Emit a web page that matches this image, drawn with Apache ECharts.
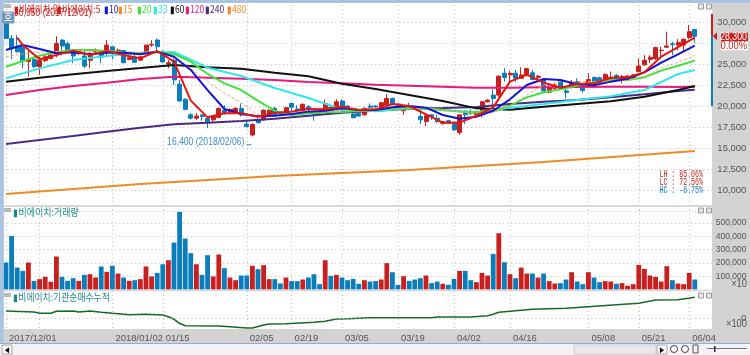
<!DOCTYPE html>
<html>
<head>
<meta charset="utf-8">
<style>
  html, body { margin: 0; padding: 0; background: #f0f0f0; }
  #main { width: 750px; height: 355px; }
</style>
<script src="https://cdn.jsdelivr.net/npm/echarts@6/dist/echarts.min.js"></script>
</head>
<body>
<div id="main"></div>
<script>
// 거래일
const categories = [
  "2017/12/01","2017/12/04","2017/12/05","2017/12/06","2017/12/07","2017/12/08","2017/12/11","2017/12/12","2017/12/13","2017/12/14","2017/12/15",
  "2017/12/18","2017/12/19","2017/12/20","2017/12/21","2017/12/22","2017/12/26","2017/12/27","2017/12/28",
  "2018/01/02","2018/01/03","2018/01/04","2018/01/05","2018/01/08","2018/01/09","2018/01/10","2018/01/11","2018/01/12",
  "2018/01/15","2018/01/16","2018/01/17","2018/01/18","2018/01/19","2018/01/22","2018/01/23","2018/01/24","2018/01/25","2018/01/26",
  "2018/01/29","2018/01/30","2018/01/31","2018/02/01","2018/02/02","2018/02/05","2018/02/06","2018/02/07","2018/02/08","2018/02/09",
  "2018/02/12","2018/02/13","2018/02/14","2018/02/19","2018/02/20","2018/02/21","2018/02/22","2018/02/23","2018/02/26","2018/02/27","2018/02/28",
  "2018/03/02","2018/03/05","2018/03/06","2018/03/07","2018/03/08","2018/03/09","2018/03/12","2018/03/13","2018/03/14","2018/03/15","2018/03/16",
  "2018/03/19","2018/03/20","2018/03/21","2018/03/22","2018/03/23","2018/03/26","2018/03/27","2018/03/28","2018/03/29","2018/03/30",
  "2018/04/02","2018/04/03","2018/04/04","2018/04/05","2018/04/06","2018/04/09","2018/04/10","2018/04/11","2018/04/12","2018/04/13",
  "2018/04/16","2018/04/17","2018/04/18","2018/04/19","2018/04/20","2018/04/23","2018/04/24","2018/04/25","2018/04/26","2018/04/27","2018/04/30",
  "2018/05/02","2018/05/03","2018/05/04","2018/05/08","2018/05/09","2018/05/10","2018/05/11","2018/05/14","2018/05/15","2018/05/16","2018/05/17","2018/05/18",
  "2018/05/21","2018/05/23","2018/05/24","2018/05/25","2018/05/28","2018/05/29","2018/05/30","2018/05/31","2018/06/01","2018/06/04","2018/06/05"
];

const opens = [
  30050,28050,27050,27050,25300,25550,24700,25400,25650,26450,
  27850,27400,26700,26250,25950,25450,26450,26450,26450,27050,
  26350,26600,25550,25850,25450,26400,27250,27850,26250,25000,
  25450,22600,20800,18950,18550,18950,18500,18350,18650,19500,
  19300,19300,19700,17850,16550,18350,18350,18950,19700,19200,
  19150,20300,19650,19450,19900,19350,19350,19500,19850,19900,
  20600,20000,19050,19130,18950,20000,20000,19700,20100,20900,
  20250,19450,19850,19750,18750,18150,18950,18550,17950,18250,
  18050,16850,19350,19350,18950,18950,20500,21300,21300,23900,
  23700,23900,23300,23700,23950,23400,23100,21650,22100,23100,
  21800,22200,22900,22200,22600,23400,23350,23200,23150,23650,
  23150,23300,23400,24100,24900,25550,25650,26600,27000,27400,
  27250,27250,28150,29100
];
const closes = [
  28050,26850,26450,25350,25550,24700,25450,25850,26050,27450,
  27150,26700,25950,26600,24750,26250,26650,25850,27250,26450,
  26650,25150,25750,25200,25850,27250,27350,27050,25250,25150,
  23100,20600,19600,18550,18800,18750,18150,18750,19700,19150,
  19600,19700,18950,17550,17800,18000,19500,19500,18950,19050,
  19800,19850,19400,20200,19600,19150,19150,20300,19500,20500,
  19500,19850,18600,18800,19700,19850,19900,20400,20900,20300,
  19850,19850,19700,19650,18350,18850,18750,18150,18150,18000,
  17150,18950,18950,19150,19350,20500,20700,20900,23550,23400,
  23900,23300,23700,24450,23150,23550,21800,22200,22500,22100,
  21600,22750,22350,21850,23150,22700,22800,23750,23400,23150,
  23500,23550,23700,24750,25450,25800,26950,26650,27150,27300,
  27550,27950,28850,28300
];
const lows = [
  28050,25550,26350,24500,23500,24500,23700,25250,25550,25800,
  26050,26450,25100,26050,24500,24500,26250,25100,26050,25550,
  26050,25100,25450,25100,25400,26250,27050,26450,25100,24500,
  22500,20500,19500,18400,18350,18250,17350,18150,18550,18950,
  19200,19200,18750,17450,16400,17950,18250,18800,18750,18950,
  19050,19350,19350,19350,19350,18250,19000,19350,19450,19700,
  19350,19700,18550,18750,18850,19700,19800,19600,20000,20250,
  19700,18950,19500,19500,17850,17600,18350,17950,17750,17850,
  17050,16550,17850,18950,18650,18650,20400,19900,21100,22900,
  22900,22900,23300,23500,23100,23200,21700,21500,21950,21900,
  20900,22100,22200,21600,22500,22100,22500,23100,23100,22900,
  22700,23150,23300,24050,24750,25100,25500,25850,26950,26050,
  26650,26450,27950,27550
];
const highs = [
  30950,28450,28450,27250,26650,25850,25850,26050,26250,28300,
  27950,27650,26700,26700,26700,26450,26850,26450,27850,27050,
  26850,26650,25850,26250,25950,27250,27850,28050,26650,25450,
  25650,23100,20900,19150,19150,18950,18550,18800,19850,20100,
  19700,19850,20300,18350,17950,18550,19600,19600,19900,19350,
  19900,20400,20100,20300,20100,19350,19450,20800,20000,20800,
  20800,20100,19500,19200,19850,20300,20100,20500,21400,21000,
  20300,20000,20400,19850,19500,18950,18950,18950,18200,18350,
  18150,18950,19500,19600,19450,20600,20800,22000,23650,24500,
  24200,24300,24600,24550,24300,23700,23300,22700,22700,23100,
  22100,23100,23300,22500,23900,23500,23500,23900,24100,23800,
  23700,23700,23800,25650,26050,26050,27050,27050,28850,27650,
  27950,28050,29650,29100
];
const volumes = [
  203000,403000,165000,140000,203000,65000,78000,95000,58000,248000,
  95000,65000,85000,65000,110000,115000,90000,173000,133000,178000,
  120000,90000,65000,70000,78000,173000,98000,125000,190000,220000,
  353000,584000,383000,273000,190000,110000,258000,98000,263000,160000,
  90000,70000,105000,105000,178000,153000,183000,78000,78000,45000,
  90000,63000,63000,75000,90000,115000,40000,220000,103000,110000,
  90000,70000,80000,43000,70000,60000,63000,75000,198000,130000,
  35000,100000,65000,75000,85000,105000,48000,60000,43000,35000,
  80000,140000,140000,70000,55000,125000,105000,268000,423000,205000,
  115000,85000,165000,120000,120000,90000,120000,63000,45000,48000,
  75000,130000,60000,40000,130000,90000,55000,63000,60000,43000,
  48000,28000,40000,185000,155000,105000,95000,60000,175000,70000,
  45000,40000,125000,75000
];

// 이동평균: 5 10 15 20 은 3봉 간격, 33 60 120 240 은 6봉 간격으로 읽음
const fastIdx = [0,3,6,9,12,15,18,21,24,27,30,33,36,39,42,45,48,51,54,57,60,63,66,69,72,75,78,81,84,87,90,93,96,99,102,105,108,111,114,117,120,123];
const slowIdx = [0,6,12,18,24,30,36,42,48,54,60,66,72,78,84,90,96,102,108,114,120,123];
const ma5Idx = [2,3,6,9,12,15,18,21,24,27,30,33,36,39,42,45,48,51,54,57,60,63,66,69,72,75,78,81,84,87,90,93,96,99,102,105,108,111,114,117,120,123];
const ma5 = [28130,27260,25560,26070,26590,26070,26550,26070,25670,26550,25280,20640,18650,19130,19130,18730,19210,19330,19640,19600,19920,19520,19600,20240,20000,19010,18020,18020,18850,19840,22900,23730,22780,22180,22620,22700,23370,23410,24010,25870,27020,28130];
const ma10 = [26670,27260,26790,26270,26390,26150,26350,26350,26150,26470,25870,24290,21900,19640,19050,18770,18850,19050,19330,19440,19720,19520,19520,19840,20000,19800,18930,18490,18730,19440,20790,22500,23210,23100,22580,22460,22900,23250,24010,25160,26150,27180];
const ma15 = [25870,26190,26390,26470,26590,26510,26430,26390,26390,26470,25870,24480,22900,21510,20400,18930,18850,19050,19290,19400,19520,19600,19680,19720,19720,19680,19520,19330,19010,19210,20000,21310,22500,22900,22900,22900,22980,23060,23570,24520,25200,25990];
const ma20 = [24680,25360,25990,26390,26670,26670,26550,26390,26270,26430,26190,25280,23810,22700,21900,20600,19440,18930,19130,19250,19290,19400,19560,19680,19720,19680,19520,19330,19250,19400,20040,21030,21630,21980,22420,22820,23100,23100,23410,24210,24800,25400];
const ma33 = [23290,24480,25480,25950,26350,26430,24560,23570,22140,20950,19600,19370,19720,19520,19250,19800,20240,20710,21150,21900,23810,24290];
const ma60 = [22900,23370,23770,24170,24520,24880,24600,24440,23970,23530,22660,22020,21310,20600,19720,19560,19920,20240,20560,21110,21900,22380];
const ma120 = [21310,21900,22380,22780,23210,23490,23370,23250,23100,22860,22700,22540,22420,22300,22180,22180,22220,22260,22300,22300,22260,22300];
const ma240 = [15480,15950,16430,16940,17420,17820,18020,18210,18490,18850,19210,19440,19680,19760,19880,20240,20520,20710,21030,21390,21790,21940];
const ma480Idx = [0,24,48,72,96,123];
const ma480 = [9520,10710,11670,12380,13330,14640];

// 기관순매수누적
const flowIdx = [0,5,6,8,9,12,13,15,17,19,22,25,28,29,30,31,32,38,40,43,44,46,47,50,55,57,59,61,65,76,77,83,86,87,88,94,100,104,109,113,116,120,123];
const flowVals = [7000,6000,4700,4700,6700,7000,6000,7000,5700,4700,3300,3700,3000,1300,-1300,-5300,-7700,-8000,-8700,-10000,-10000,-7000,-6000,-5700,-4300,-3300,-1000,-700,300,300,1000,1000,2300,3700,5800,8700,9700,11300,13300,14700,18000,18300,20700];

const tickIdx = [0,19,28,43,51,60,70,80,90,104,113,122];
const tickLabels = ["2017/12/01","2018/01/02","01/15","02/05","02/19","03/05","03/19","04/02","04/16","05/08","05/21","06/04"];
const gridIdx = [0,6,19,28,43,51,60,70,80,90,104,113,122];

const legendItems = ["10","15","20","33","60","120","240","480"];
const legendColors = ["#1414d2", "#f08a24", "#3fe23c", "#2fe6ec", "#111111", "#e8197d", "#4b2a86", "#f08a24"];
const legendLeft = [104, 118, 137, 153, 170, 185, 205, 227];
const lastClose = 28300;
const RED = "#c8201e";
const BLUE = "#0c7dbb";
const FONT = "'Liberation Sans',sans-serif";
const MONO = "'Liberation Mono',monospace";
const KR = "'Noto Sans CJK KR',sans-serif";

const pairs = (idx, vals) => idx.map((v, i) => [v, vals[i]]);
const candles = categories.map((_, i) => [opens[i], closes[i], lows[i], highs[i]]);
const volumeBars = volumes.map((v, i) => ({
  value: v,
  itemStyle: { color: closes[i] >= opens[i] ? RED : BLUE }
}));

const dotted = { show: true, lineStyle: { color: "#bdbdbd", type: [1, 3], width: 1 } };
const xGrid = {
  show: true,
  alignWithLabel: true,
  interval: (i) => gridIdx.includes(i),
  lineStyle: dotted.lineStyle
};
const makeX = (gridIndex, showLabel) => ({
  type: "category",
  gridIndex: gridIndex,
  data: categories,
  max: 126,
  axisLine: { show: false },
  axisTick: { show: false },
  splitLine: xGrid,
  axisLabel: {
    show: showLabel,
    interval: (i) => tickIdx.includes(i),
    formatter: (v) => {
      const k = categories.indexOf(v);
      return tickLabels[tickIdx.indexOf(k)] || "";
    },
    align: "left",
    padding: [0, 0, 0, 3],
    margin: 4,
    color: "#555",
    fontFamily: FONT,
    fontSize: 9.5
  }
});
const maLine = (name, idx, vals, color, width, type) => ({
  name: name,
  type: "line",
  xAxisIndex: 0,
  yAxisIndex: 0,
  data: pairs(idx, vals),
  symbol: "none",
  z: 4,
  lineStyle: { color: color, width: width, type: type || "solid" }
});
const yLabel = (formatter, size) => ({
  align: "right",
  margin: 32,
  color: "#555",
  fontFamily: FONT,
  fontSize: size,
  formatter: formatter
});

const chart = echarts.init(document.getElementById("main"));
chart.setOption({
  animation: false,
  backgroundColor: "#d3d3d3",
  grid: [
    { left: 3.2, right: 35.6, top: 1, height: 210 },
    { left: 3.2, right: 35.6, top: 209.7, height: 79.8 },
    { left: 3.2, right: 35.6, top: 291, height: 38 }
  ],
  xAxis: [makeX(0, false), makeX(1, false), makeX(2, true)],
  yAxis: [
    {
      type: "value",
      gridIndex: 0,
      position: "right",
      min: 7500,
      max: 32500,
      interval: 2500,
      axisLine: { show: false },
      axisTick: { show: false },
      splitLine: dotted,
      axisLabel: yLabel((v) => (v < 10000 || v > 30000 || v === 27500 ? "" : v.toLocaleString("en-US")), 9.5)
    },
    {
      type: "value",
      gridIndex: 1,
      position: "right",
      min: 0,
      max: 600000,
      interval: 100000,
      axisLine: { show: false },
      axisTick: { show: false },
      splitLine: { show: true, showMinLine: false, showMaxLine: false, lineStyle: dotted.lineStyle },
      axisLabel: yLabel((v) => (v === 0 || v === 600000 ? "" : v.toLocaleString("en-US")), 8.5)
    },
    {
      type: "value",
      gridIndex: 2,
      position: "right",
      min: -11000,
      max: 27000,
      axisLine: { show: false },
      axisTick: { show: false },
      splitLine: { show: false },
      axisLabel: Object.assign(yLabel(undefined, 9.5), { customValues: [0] })
    }
  ],
  series: [
    {
      name: "price",
      type: "candlestick",
      xAxisIndex: 0,
      yAxisIndex: 0,
      data: candles,
      barWidth: 4.5,
      z: 3,
      itemStyle: { color: RED, color0: BLUE, borderColor: RED, borderColor0: BLUE, borderWidth: 1 }
    },
    maLine("ma480", ma480Idx, ma480, "#f08a24", 2),
    maLine("ma240", slowIdx, ma240, "#4b2a86", 2),
    maLine("ma120", slowIdx, ma120, "#e8197d", 2),
    maLine("ma60", slowIdx, ma60, "#111111", 2),
    maLine("ma33", slowIdx, ma33, "#2fe6ec", 2),
    maLine("ma20", fastIdx, ma20, "#3fe23c", 2),
    maLine("ma15", fastIdx, ma15, "#f3a878", 1, [3, 2]),
    maLine("ma10", fastIdx, ma10, "#1414d2", 2),
    maLine("ma5", ma5Idx, ma5, "#e8140f", 2),
    {
      name: "volume",
      type: "bar",
      xAxisIndex: 1,
      yAxisIndex: 1,
      data: volumeBars,
      barWidth: 4.8
    },
    {
      name: "flow",
      type: "line",
      xAxisIndex: 2,
      yAxisIndex: 2,
      data: pairs(flowIdx, flowVals),
      symbol: "none",
      lineStyle: { color: "#17692a", width: 1.6 },
      markLine: {
        silent: true,
        symbol: "none",
        label: { show: false },
        lineStyle: { color: "#bdbdbd", type: [1, 3], width: 1 },
        data: [{ yAxis: 0 }]
      }
    }
  ]
});

// 화면 장식과 글자. 가격 위치는 축에서 환산
const py = (v) => chart.convertToPixel({ yAxisIndex: 0 }, v);
const px = (i) => chart.convertToPixel({ xAxisIndex: 0 }, i);
const rect = (x, y, w, h, fill, z, stroke) => ({
  type: "rect",
  shape: { x: x, y: y, width: w, height: h },
  style: { fill: fill, stroke: stroke || null, lineWidth: 1 },
  silent: true,
  z: z
});
// 원본 글꼴이 좁아서 가로만 줄여 그림
const text = (x, y, s, fill, family, align, sx, z) => ({
  type: "text",
  x: x,
  y: y,
  scaleX: sx || 0.78,
  style: {
    text: s,
    fill: fill,
    fontSize: family === KR ? 10 : 11,
    fontFamily: family || FONT,
    align: align || "left",
    verticalAlign: "middle"
  },
  silent: true,
  z: z || 20
});
const paneButtons = (y) => [
  rect(698.5, y, 5, 5, "#e6e6e6", 20, "#999"),
  rect(706.5, y, 5, 5, "#e6e6e6", 20, "#999")
];
const legendMarks = legendItems.map((s, i) => text(legendLeft[i], 9, "▮" + s, legendColors[i], KR, "left", 0.85));

const closeY = py(lastClose);
const highY = py(highs[0]);
const lowY = py(20000);
const lowMark = lows.indexOf(Math.min.apply(null, lows));

chart.setOption({
  graphic: [
    // 패널 배경
    rect(4, 3, 708, 202, "#ffffff", -1),
    rect(4, 207, 708, 83, "#ffffff", -1),
    rect(4, 291, 708, 38, "#ffffff", -1),
    // 테두리
    rect(0, 0, 750, 3, "#a9c4e2", 10),
    rect(0, 0, 3.5, 344, "#a9c4e2", 10),
    rect(3.5, 205, 708.5, 2, "#d8d8d8", 10),
    rect(3.5, 289.8, 708.5, 1.4, "#d8d8d8", 10),
    rect(712, 3, 2.4, 326, "#d3d3d3", 1),
    rect(3.5, 329, 708.5, 14, "#d3d3d3", -1),
    rect(0, 343, 750, 1, "#8fb0d6", 10),
    rect(0, 344, 750, 11, "#f3f3f3", 10),
    // 현재가 막대와 표시
    rect(711, highY, 2, closeY - highY, RED, 12),
    rect(711, closeY, 2, lowY - closeY, BLUE, 12),
    {
      type: "polygon",
      shape: { points: [[713, closeY], [717, closeY - 4], [717, closeY + 4]] },
      style: { fill: RED },
      silent: true,
      z: 13
    },
    rect(721, closeY - 3.5, 27, 8.5, RED, 13),
    text(747, closeY + 0.7, lastClose.toLocaleString("en-US"), "#ffffff", FONT, "right", 0.8, 14),
    rect(721, closeY + 5, 27, 9, "#ffffff", 13),
    text(747, closeY + 9.5, "0.00%", RED, FONT, "right", 0.85, 14),
    // 범례
    rect(4, 4, 7, 4, "#b8b8b8", 20),
    text(14, 9, "▮비에이치:일", RED, KR, "left", 0.85),
    text(57, 9, "▮비에이치:5", RED, KR, "left", 0.85),
    text(14, 13, "30,950 (2017/12/01)", RED),
    ...legendMarks,
    rect(2, 12, 12, 11, "#6d8fb8", 21, "#8fa9c9"),
    text(8, 17.5, "호", "#ffffff", KR, "center", 1, 22),
    ...paneButtons(4),
    // 저가 표시
    text(px(lowMark) - 8, py(lows[lowMark]) + 6, "16,400 (2018/02/06)", "#3b8fc4", FONT, "right"),
    rect(px(lowMark) - 6, py(lows[lowMark]) + 8, 5, 1, "#3b8fc4", 20),
    // 고저 등락률
    text(703, 174, "LH : 85.06%", RED, MONO, "right", 0.6),
    text(703, 182, "LC : 72.56%", RED, MONO, "right", 0.6),
    text(703, 190, "HC : -6.75%", BLUE, MONO, "right", 0.6),
    // 거래량 패널
    rect(4, 208, 7, 4, "#b8b8b8", 20),
    text(13, 212.5, "▮비에이치:거래량", "#1f8a8a", KR, "left", 0.9),
    ...paneButtons(208),
    text(747, 284, "×10", "#555", FONT, "right", 0.85),
    // 수급 패널
    rect(4, 293, 7, 4, "#b8b8b8", 20),
    text(13, 297.5, "▮비에이치:기관순매수누적", "#1f8a8a", KR, "left", 0.88),
    ...paneButtons(293),
    text(747, 323.5, "×100", "#555", FONT, "right", 0.85),
    // 아래 스크롤 줄
    rect(2, 345, 10, 9, "#f7f7f7", 21, "#aaa"),
    text(7, 349.5, "◄", "#111", KR, "center", 0.7, 22),
    rect(574, 345, 82, 9, "#e9e9e9", 21, "#ccc"),
    rect(657, 345, 10, 9, "#f7f7f7", 21, "#aaa"),
    text(662, 349.5, "►", "#111", KR, "center", 0.7, 22),
    {
      type: "circle",
      shape: { cx: 674, cy: 349, r: 3.5 },
      style: { fill: "#fff", stroke: "#444", lineWidth: 1 },
      silent: true,
      z: 21
    },
    {
      type: "circle",
      shape: { cx: 685, cy: 349, r: 3.5 },
      style: { fill: "#fff", stroke: "#444", lineWidth: 1 },
      silent: true,
      z: 21
    },
    rect(693, 345, 5, 8, "#f3f3f3", 21, "#555"),
    rect(707, 348, 40, 1, "#777", 21),
    rect(714, 346, 1.5, 6, "#333", 21)
  ]
});
</script>
</body>
</html>
